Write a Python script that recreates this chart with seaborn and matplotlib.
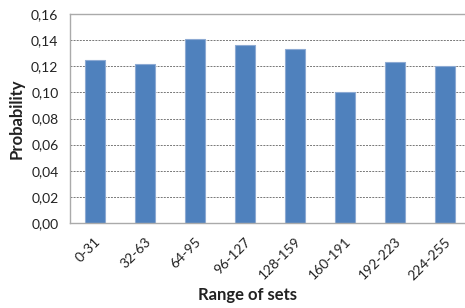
import matplotlib
matplotlib.use("Agg")
import matplotlib.pyplot as plt
import seaborn as sns
import pandas as pd
import numpy as np

# data
ranges = ["0-31", "32-63", "64-95", "96-127", "128-159", "160-191", "192-223", "224-255"]
probability = [0.125, 0.122, 0.141, 0.136, 0.133, 0.100, 0.123, 0.120]
y_ticks = [0.00, 0.02, 0.04, 0.06, 0.08, 0.10, 0.12, 0.14, 0.16]

sns.set_style("white")
plt.rcParams['font.family'] = ['Lato', 'DejaVu Sans']

df = pd.DataFrame({"Range of sets": ranges, "Probability": probability})

fig = plt.figure(figsize=(4.65, 3.08), dpi=100)
# plot area runs a little past the right edge, as in the reference
ax = fig.add_axes([69.5 / 465, 1 - 223 / 308, 400 / 465, 209 / 308])

sns.barplot(data=df, x="Range of sets", y="Probability", color="#4F81BD",
            width=0.4, edgecolor="#8DAAD3", linewidth=0.8, saturation=1, ax=ax)

ax.set_ylim(0, 0.16)
ax.set_xlim(-0.5, len(ranges) - 0.5)
ax.set_yticks(y_ticks)
ax.set_yticklabels([f"{v:.2f}".replace(".", ",") for v in y_ticks], fontsize=10, color="#222222")

# gridlines
for v in y_ticks[1:-1]:
    ax.axhline(v, color="#777777", linestyle=(0, (2, 1.2)), linewidth=0.7, zorder=0)

for s in ["left", "bottom", "top"]:
    ax.spines[s].set_color("#AAAAAA")
    ax.spines[s].set_linewidth(1.0)
ax.spines["right"].set_visible(False)

# x tick marks between categories, labels at category centres
ax.set_xticks(np.arange(len(ranges)))
ax.set_xticklabels(ranges, rotation=45, ha="right", rotation_mode="anchor",
                   fontsize=10, color="#222222")
ax.set_xticks(np.arange(len(ranges) + 1) - 0.5, minor=True)
ax.tick_params(axis="x", which="major", length=0, pad=9)
ax.tick_params(axis="x", which="minor", length=5, color="#AAAAAA", width=1)
ax.tick_params(axis="y", length=5, color="#AAAAAA", width=1, pad=3)

ax.set_xlabel("Range of sets", fontsize=12, fontweight="bold", color="#222222")
ax.set_ylabel("Probability", fontsize=12, fontweight="bold", color="#222222")
ax.xaxis.set_label_coords((247 - 69.5) / 400, -(287 - 223) / 209)
ax.yaxis.set_label_coords(-(69.5 - 25) / 400, 0.5)

fig.savefig("out.png", dpi=100)
